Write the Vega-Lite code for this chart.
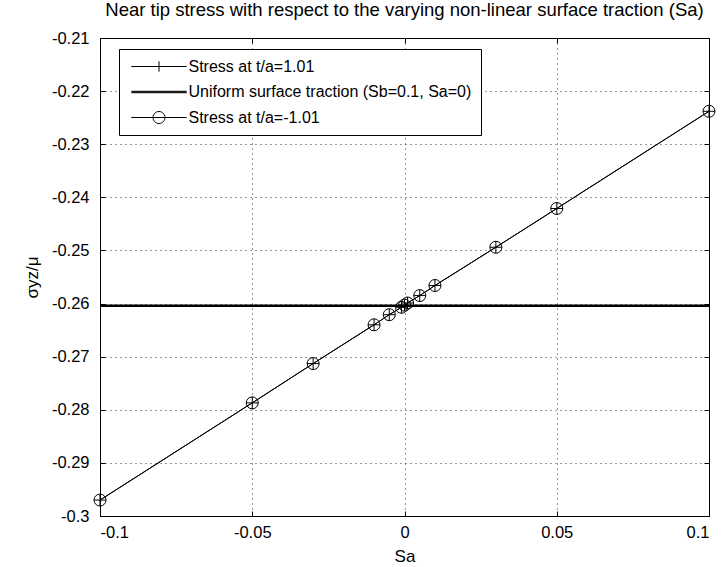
{
  "$schema": "https://vega.github.io/schema/vega-lite/v6.json",
  "width": 609,
  "height": 478,
  "autosize": "none",
  "padding": {"left": 100, "top": 38, "right": 13, "bottom": 51},
  "background": "white",
  "title": {"text": "Near tip stress with respect to the varying non-linear surface traction (Sa)", "fontSize": 18.5, "fontWeight": "normal", "font": "Liberation Sans", "color": "black", "offset": 11, "anchor": "middle"},
  "config": {
    "view": {"stroke": "black", "strokeWidth": 1},
    "font": "Liberation Sans",
    "axis": {"labelFont": "Liberation Sans", "labelFontSize": 16.5, "labelColor": "black", "titleFont": "Liberation Sans", "titleFontSize": 17, "titleFontWeight": "normal", "titleColor": "black", "domainColor": "black", "tickColor": "black", "tickSize": -5, "gridColor": "black", "gridDash": [1, 4], "gridOpacity": 0.8},
    "legend": {"labelFont": "Liberation Sans", "labelFontSize": 16, "labelColor": "black"}
  },
  "datasets": {
    "pts": [
      {"Sa": -0.1, "stress": -0.297, "series": "Stress at t/a=1.01"},
      {"Sa": -0.05, "stress": -0.2787, "series": "Stress at t/a=1.01"},
      {"Sa": -0.03, "stress": -0.2713, "series": "Stress at t/a=1.01"},
      {"Sa": -0.01, "stress": -0.264, "series": "Stress at t/a=1.01"},
      {"Sa": -0.005, "stress": -0.2621, "series": "Stress at t/a=1.01"},
      {"Sa": -0.001, "stress": -0.2607, "series": "Stress at t/a=1.01"},
      {"Sa": 0, "stress": -0.2603, "series": "Stress at t/a=1.01"},
      {"Sa": 0.001, "stress": -0.2599, "series": "Stress at t/a=1.01"},
      {"Sa": 0.005, "stress": -0.2585, "series": "Stress at t/a=1.01"},
      {"Sa": 0.01, "stress": -0.2566, "series": "Stress at t/a=1.01"},
      {"Sa": 0.03, "stress": -0.2494, "series": "Stress at t/a=1.01"},
      {"Sa": 0.05, "stress": -0.2421, "series": "Stress at t/a=1.01"},
      {"Sa": 0.1, "stress": -0.2238, "series": "Stress at t/a=1.01"},
      {"Sa": -0.1, "stress": -0.297, "series": "Stress at t/a=-1.01"},
      {"Sa": -0.05, "stress": -0.2787, "series": "Stress at t/a=-1.01"},
      {"Sa": -0.03, "stress": -0.2713, "series": "Stress at t/a=-1.01"},
      {"Sa": -0.01, "stress": -0.264, "series": "Stress at t/a=-1.01"},
      {"Sa": -0.005, "stress": -0.2621, "series": "Stress at t/a=-1.01"},
      {"Sa": -0.001, "stress": -0.2607, "series": "Stress at t/a=-1.01"},
      {"Sa": 0, "stress": -0.2603, "series": "Stress at t/a=-1.01"},
      {"Sa": 0.001, "stress": -0.2599, "series": "Stress at t/a=-1.01"},
      {"Sa": 0.005, "stress": -0.2585, "series": "Stress at t/a=-1.01"},
      {"Sa": 0.01, "stress": -0.2566, "series": "Stress at t/a=-1.01"},
      {"Sa": 0.03, "stress": -0.2494, "series": "Stress at t/a=-1.01"},
      {"Sa": 0.05, "stress": -0.2421, "series": "Stress at t/a=-1.01"},
      {"Sa": 0.1, "stress": -0.2238, "series": "Stress at t/a=-1.01"}
    ],
    "uniform": [
      {"Sa": -0.1, "stress": -0.2604, "series": "Uniform surface traction (Sb=0.1, Sa=0)"},
      {"Sa": 0.1, "stress": -0.2604, "series": "Uniform surface traction (Sb=0.1, Sa=0)"}
    ]
  },
  "resolve": {"axis": {"x": "independent", "y": "independent"}, "scale": {"shape": "independent"}, "legend": {"shape": "independent"}},
  "layer": [
    {
      "data": {"name": "pts"},
      "mark": {"type": "line", "color": "black", "strokeWidth": 1},
      "encoding": {
        "x": {"field": "Sa", "type": "quantitative", "scale": {"domain": [-0.1, 0.1], "nice": false, "zero": false},
              "axis": {"title": "Sa", "values": [-0.1, -0.05, 0, 0.05, 0.1], "labelExpr": "'' + datum.value", "grid": true, "labelPadding": 13, "titlePadding": 8}},
        "y": {"field": "stress", "type": "quantitative", "scale": {"domain": [-0.3, -0.21], "nice": false, "zero": false},
              "axis": {"title": "σyz/μ", "values": [-0.3, -0.29, -0.28, -0.27, -0.26, -0.25, -0.24, -0.23, -0.22, -0.21], "labelExpr": "'' + datum.value", "grid": true, "labelPadding": 16, "titlePadding": 10}},
        "detail": {"field": "series"}
      }
    },
    {
      "data": {"name": "uniform"},
      "mark": {"type": "line", "color": "black", "strokeWidth": 2.5},
      "encoding": {
        "x": {"field": "Sa", "type": "quantitative", "axis": {"orient": "top", "labels": false, "title": null, "grid": false, "domain": false, "values": [-0.1, -0.05, 0, 0.05, 0.1]}},
        "y": {"field": "stress", "type": "quantitative", "axis": {"orient": "right", "labels": false, "title": null, "grid": false, "domain": false, "values": [-0.3, -0.29, -0.28, -0.27, -0.26, -0.25, -0.24, -0.23, -0.22, -0.21]}}
      }
    },
    {
      "data": {"name": "pts"},
      "mark": {"type": "point", "filled": false, "color": "black", "strokeWidth": 1, "size": 144, "opacity": 1},
      "encoding": {
        "x": {"field": "Sa", "type": "quantitative", "axis": null},
        "y": {"field": "stress", "type": "quantitative", "axis": null},
        "shape": {"field": "series", "type": "nominal", "legend": null,
          "scale": {"domain": ["Stress at t/a=1.01", "Stress at t/a=-1.01"], "range": ["M-1,0H1M0,-1V1", "circle"]}}
      }
    },
    {
      "data": {"name": "pts"},
      "transform": [{"filter": "datum.Sa > 1"}],
      "mark": {"type": "point", "filled": false, "color": "black", "strokeWidth": 1, "opacity": 1},
      "encoding": {
        "x": {"field": "Sa", "type": "quantitative", "axis": null},
        "y": {"field": "stress", "type": "quantitative", "axis": null},
        "shape": {"field": "series", "type": "nominal",
          "scale": {"domain": ["Stress at t/a=1.01", "Uniform surface traction (Sb=0.1, Sa=0)", "Stress at t/a=-1.01"],
                    "range": ["M-3.45,0H3.45M0,-0.65V0.65", "M-3.45,-0.09H3.45M-3.45,0H3.45M-3.45,0.09H3.45", "M-3.45,0H3.45M-0.75,0A0.75,0.75,0,1,0,0.75,0A0.75,0.75,0,1,0,-0.75,0"]},
          "legend": {"orient": "none", "legendX": 19, "legendY": 11, "title": null, "padding": 9, "symbolOffset": 22.5, "labelOffset": 21, "rowPadding": 8.5, "labelLimit": 0, "fillColor": "white", "strokeColor": "black", "symbolSize": 256, "symbolStrokeWidth": 1, "symbolFillColor": "transparent", "symbolStrokeColor": "black", "symbolOpacity": 1}
        }
      }
    }
  ]
}
